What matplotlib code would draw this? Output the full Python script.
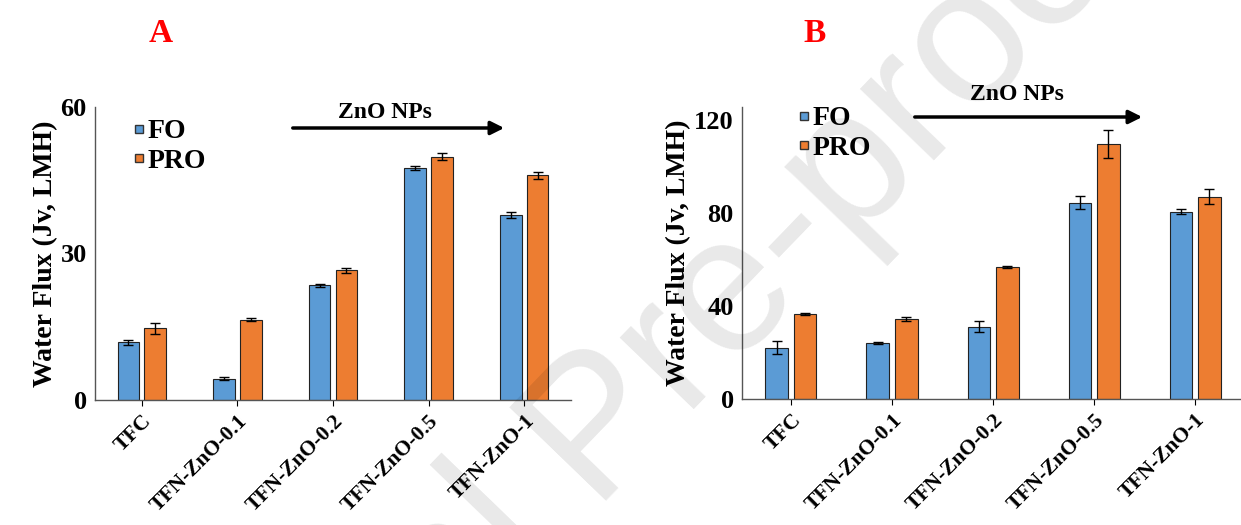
import matplotlib

matplotlib.use("Agg")
import matplotlib.pyplot as plt
import numpy as np
from matplotlib.lines import Line2D
from matplotlib.patches import FancyArrowPatch

plt.rcParams.update(
    {
        "font.family": ["Liberation Serif", "DejaVu Serif"],
        "font.weight": "bold",
        "axes.labelweight": "bold",
        "axes.linewidth": 1.0,
        "axes.edgecolor": "#555555",
    }
)

membranes = ["TFC", "TFN-ZnO-0.1", "TFN-ZnO-0.2", "TFN-ZnO-0.5", "TFN-ZnO-1"]

# panel A
a_fo = [11.8, 4.4, 23.5, 47.5, 37.9]
a_fo_err = [0.5, 0.4, 0.3, 0.4, 0.6]
a_pro = [14.7, 16.4, 26.6, 49.8, 46.0]
a_pro_err = [1.1, 0.3, 0.5, 0.7, 0.7]

# panel B
b_fo = [22.1, 24.1, 31.1, 84.5, 80.6]
b_fo_err = [2.8, 0.5, 2.3, 2.8, 1.0]
b_pro = [36.4, 34.4, 56.8, 109.5, 87.0]
b_pro_err = [0.4, 1.0, 0.5, 6.0, 3.2]

FO_COLOR = "#5B9BD5"
PRO_COLOR = "#ED7D31"
W, H = 1241, 525

fig = plt.figure(figsize=(W / 100, H / 100), dpi=100)


def panel(rect, fo, fo_err, pro, pro_err, ylim, yticks, xlim):
    ax = fig.add_axes(rect)
    x = np.arange(len(membranes))
    ekw = dict(ecolor="black", elinewidth=1.0, capsize=3.5, capthick=1.0)
    ax.bar(x - 0.14, fo, 0.225, yerr=fo_err, color=FO_COLOR, edgecolor="#222222", linewidth=0.8, error_kw=ekw)
    ax.bar(x + 0.14, pro, 0.225, yerr=pro_err, color=PRO_COLOR, edgecolor="#222222", linewidth=0.8, error_kw=ekw)
    ax.set_xlim(*xlim)
    ax.set_ylim(*ylim)
    ax.set_yticks(yticks)
    ax.set_xticks(x)
    ax.set_xticklabels(membranes, rotation=45, ha="right", rotation_mode="anchor", fontsize=15.5)
    ax.tick_params(axis="y", length=0, labelsize=19, pad=6)
    ax.tick_params(axis="x", length=4, direction="out", pad=4)
    for s in ["top", "right"]:
        ax.spines[s].set_visible(False)
    ax.set_ylabel("Water Flux (Jv, LMH)", fontsize=20, labelpad=2)
    handles = [
        Line2D([], [], marker="s", ls="", markersize=6, markerfacecolor=FO_COLOR, markeredgecolor="#333333"),
        Line2D([], [], marker="s", ls="", markersize=6, markerfacecolor=PRO_COLOR, markeredgecolor="#333333"),
    ]
    return ax, handles


axA, hA = panel([95 / W, 1 - 400 / H, (571 - 95) / W, 293 / H], a_fo, a_fo_err, a_pro, a_pro_err,
                (0, 60), [0, 30, 60], (-0.49, 4.49))
axB, hB = panel([742 / W, 1 - 399 / H, (W - 742) / W, 292 / H], b_fo, b_fo_err, b_pro, b_pro_err,
                (0, 125.6), [0, 40, 80, 120], (-0.485, 4.455))

fig.legend(hA, ["FO", "PRO"], loc="upper left", bbox_to_anchor=(120 / W, 1 - 105 / H), frameon=False,
           fontsize=20, handlelength=0.4, handletextpad=0.1, labelspacing=0.15, borderpad=0)
fig.legend(hB, ["FO", "PRO"], loc="upper left", bbox_to_anchor=(785 / W, 1 - 92 / H), frameon=False,
           fontsize=20, handlelength=0.4, handletextpad=0.1, labelspacing=0.15, borderpad=0)

# panel letters
fig.text(161 / W, 1 - 34 / H, "A", color="red", fontsize=24, ha="center", va="center")
fig.text(815 / W, 1 - 34 / H, "B", color="red", fontsize=24, ha="center", va="center")

# ZnO NPs arrows
for tx, ty, x0, x1, ay in [(385, 112, 290, 507, 128), (1017, 95, 912, 1145, 117)]:
    fig.text(tx / W, 1 - ty / H, "ZnO NPs", fontsize=17, ha="center", va="center")
    fig.add_artist(
        FancyArrowPatch(
            (x0 / W, 1 - ay / H), (x1 / W, 1 - ay / H), transform=fig.transFigure,
            arrowstyle="-|>,head_length=8,head_width=4", color="black", lw=2.5, mutation_scale=1,
        )
    )

# journal watermark, split at the space so "Pre-proof" starts where the reference has it
wm = dict(fontsize=140, color="black", alpha=0.09, family="Liberation Sans", weight="normal",
          rotation=46, rotation_mode="anchor", va="baseline")
fig.text(590 / W, 1 - 500 / H, "Pre-proof", ha="left", **wm)
fig.text(552 / W, 1 - 539 / H, "Journal", ha="right", **wm)

fig.savefig("out.png", dpi=100)
